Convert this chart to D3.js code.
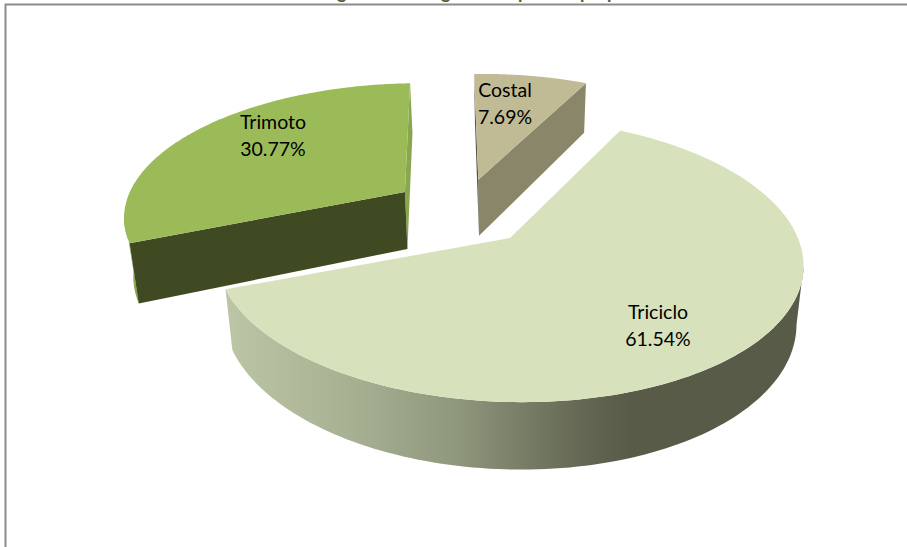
<!DOCTYPE html>
<html>
<head>
<meta charset="utf-8">
<script src="https://cdn.jsdelivr.net/npm/d3@7"></script>
<style>
html,body{margin:0;padding:0;background:#fff;overflow:hidden}
svg{display:block}
text{font-family:Lato,"Open Sans",sans-serif}
</style>
</head>
<body>
<svg id="c" width="907" height="547"></svg>
<script>
// Data
const categories = ["Triciclo", "Trimoto", "Costal"];
const values = [61.54, 30.77, 7.69];
const topColors = ["#d7e2bc", "#9bbb59", "#c1bb95"];
const startFaceColors = ["#8c9477", "#3f4a22", "#57543f"];
const endFaceColors = ["#8c9477", "#8aa64e", "#8a866a"];
const wallColors = ["url(#wall)", "#8aa64e", "#8a866a"];
const titleGlyphs = ["g", "g", "p", "p", "p"];   // only the descenders survive the crop
const titleX = [337, 441, 518, 580, 607];

const W = 907, H = 547;
const svg = d3.select("#c");

// projection of the tilted pie
const cx = 510, cy = 238, R = 290, Rb = 138.6, k = 0.155, shrink = 0.024;
const depths = [57, 60, 60];
const explode = [[0, 0], [-0.382, 0.35], [-0.117, 0.45]];
const tilt = [0.02, 0, 0];
const project = (X, Y, t, s, depth) => {
  const w = 1 + k * Y;
  const dx = R * X / w;
  return [cx + dx * (1 - shrink * t), cy - Rb * Y / w + depth * t / w + s * dx];
};

const startDeg = 25.7;
const arcs = d3.pie().sort(null)
  .startAngle(startDeg * Math.PI / 180)
  .endAngle((startDeg + 360) * Math.PI / 180)(values);

const line = d3.line();
const defs = svg.append("defs");
const grad = defs.append("linearGradient").attr("id", "wall")
  .attr("gradientUnits", "userSpaceOnUse").attr("x1", 226).attr("x2", 804).attr("y1", 0).attr("y2", 0);
[[0, "#bcc6a7"], [0.2, "#a9b394"], [0.4, "#8f977c"], [0.52, "#777c65"], [0.64, "#5f6350"], [0.7, "#575b48"], [1, "#575b48"]]
  .forEach(s => grad.append("stop").attr("offset", s[0]).attr("stop-color", s[1]));

// frame
svg.append("path").attr("d", `M5.5 ${H}V4.5H${W}`).attr("fill", "none").attr("stroke", "#8c8c8c").attr("stroke-width", 2);

// cropped title
svg.append("g").attr("clip-path", "url(#titleClip)").selectAll("text").data(titleGlyphs).join("text")
  .attr("x", (d, i) => titleX[i]).attr("y", -1)
  .attr("font-size", 18).attr("font-weight", 700).attr("fill", "#4f6228").text(d => d);
defs.append("clipPath").attr("id", "titleClip").append("rect").attr("x", 0).attr("y", 0).attr("width", W).attr("height", 3.6);

// slices, back ones first
const order = [2, 1, 0];
order.forEach(i => {
  const a = arcs[i], [ox, oy] = explode[i], s = tilt[i], dp = depths[i];
  const pt = (th, t) => project(Math.sin(th) + ox, Math.cos(th) + oy, t, s, dp);
  const apex = t => project(ox, oy, t, s, dp);
  const n = 160;
  const thetas = d3.range(n + 1).map(j => a.startAngle + (a.endAngle - a.startAngle) * j / n);
  const g = svg.append("g");
  // outer wall: only the part facing the viewer, so the silhouette joins top and bottom rims
  const front = thetas.filter(th => Math.cos(th) < -k);
  if (front.length) {
    g.append("path")
      .attr("d", line([...front.map(th => pt(th, 0)), ...front.slice().reverse().map(th => pt(th, 1))]) + "Z")
      .attr("fill", wallColors[i]);
  }
  // cut faces (the triciclo's are hidden behind its top)
  if (i !== 0) {
    [[a.endAngle, endFaceColors[i]], [a.startAngle, startFaceColors[i]]].forEach(([th, col]) => {
      g.append("path")
        .attr("d", line([apex(0), pt(th, 0), pt(th, 1), apex(1)]) + "Z")
        .attr("fill", col);
    });
  }
  // top surface
  g.append("path")
    .attr("d", line([apex(0), ...thetas.map(th => pt(th, 0))]) + "Z")
    .attr("fill", topColors[i]);
});

// labels
const labelPos = [[658, 319], [273, 129], [505, 97]];
const fmt = d3.format(".2f");
categories.forEach((c, i) => {
  const t = svg.append("text").attr("text-anchor", "middle").attr("font-size", 19.5).attr("fill", "#000");
  t.append("tspan").attr("x", labelPos[i][0]).attr("y", labelPos[i][1]).text(c);
  t.append("tspan").attr("x", labelPos[i][0]).attr("y", labelPos[i][1] + 27).text(fmt(values[i]) + "%");
});
</script>
</body>
</html>
